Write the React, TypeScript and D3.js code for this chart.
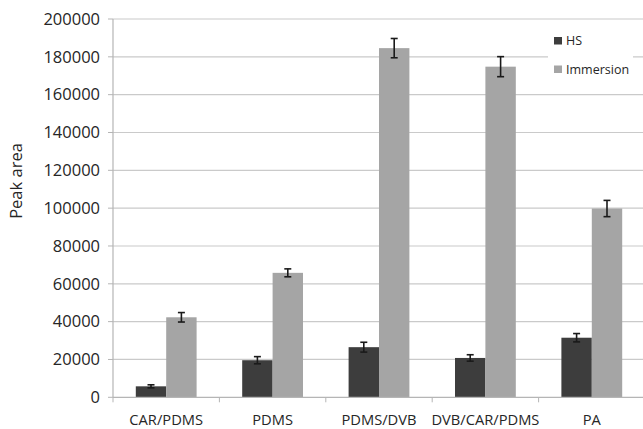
import React from "react";
import * as d3 from "d3";

const categories = ["CAR/PDMS", "PDMS", "PDMS/DVB", "DVB/CAR/PDMS", "PA"];
const seriesNames = ["HS", "Immersion"];
const hsValues = [5800, 19600, 26500, 20800, 31500];
const hsErrors = [800, 1900, 2600, 1700, 2200];
const immersionValues = [42300, 65800, 184600, 174800, 99800];
const immersionErrors = [2500, 2100, 5100, 5300, 4300];
const yTicks = [0, 20000, 40000, 60000, 80000, 100000, 120000, 140000, 160000, 180000, 200000];

const colors = ["#3d3d3d", "#a5a5a5"];
const FONT = "'Open Sans', sans-serif";

export default function App() {
  const width = 643;
  const height = 429;
  const plotLeft = 113;
  const plotRight = 645;
  const plotTop = 19;
  const plotBottom = 397.3;

  const x = d3.scaleBand<string>().domain(categories).range([plotLeft, plotRight]);
  const inner = d3
    .scaleBand<string>()
    .domain(seriesNames)
    .range([0, x.bandwidth()])
    .paddingOuter(0.75)
    .paddingInner(0);
  const y = d3.scaleLinear().domain([0, 200000]).range([plotBottom, plotTop]);

  const series = [
    { name: seriesNames[0], values: hsValues, errors: hsErrors, color: colors[0] },
    { name: seriesNames[1], values: immersionValues, errors: immersionErrors, color: colors[1] },
  ];

  const capHalf = 3.5;

  return (
    <svg
      width={width}
      height={height}
      style={{ position: "absolute", left: 0, top: 0, background: "#fff" }}
    >
      {/* horizontal gridlines */}
      {yTicks.slice(1).map((t) => (
        <line
          key={"g" + t}
          x1={plotLeft}
          x2={plotRight}
          y1={y(t)}
          y2={y(t)}
          stroke="#cacaca"
          strokeWidth={1.2}
        />
      ))}
      {/* y axis ticks & labels */}
      {yTicks.map((t) => (
        <g key={"t" + t}>
          <line x1={plotLeft - 5} x2={plotLeft} y1={y(t)} y2={y(t)} stroke="#b5b5b5" />
          <text
            x={plotLeft - 13}
            y={y(t)}
            dy="0.35em"
            textAnchor="end"
            fontFamily={FONT}
            fontSize={16.5}
            fill="#262626"
          >
            {t}
          </text>
        </g>
      ))}
      <line x1={plotLeft} x2={plotLeft} y1={plotTop} y2={plotBottom} stroke="#b5b5b5" strokeWidth={1.2} />

      {/* bars */}
      {series.map((s) =>
        categories.map((c, i) => {
          const bx = (x(c) as number) + (inner(s.name) as number);
          const bw = inner.bandwidth();
          return (
            <rect
              key={s.name + c}
              x={bx}
              y={y(s.values[i])}
              width={bw}
              height={plotBottom - y(s.values[i])}
              fill={s.color}
            />
          );
        })
      )}

      {/* x axis */}
      <line x1={plotLeft} x2={plotRight} y1={plotBottom} y2={plotBottom} stroke="#b5b5b5" strokeWidth={1.2} />
      {categories.map((c) => (
        <line
          key={"xt" + c}
          x1={x(c) as number}
          x2={x(c) as number}
          y1={plotBottom}
          y2={plotBottom + 5}
          stroke="#b5b5b5"
        />
      ))}
      {categories.map((c) => (
        <text
          key={"xl" + c}
          x={(x(c) as number) + x.bandwidth() / 2}
          y={425}
          textAnchor="middle"
          fontFamily={FONT}
          fontSize={14.7}
          fill="#262626"
        >
          {c}
        </text>
      ))}

      {/* error bars */}
      {series.map((s) =>
        categories.map((c, i) => {
          const cx = (x(c) as number) + (inner(s.name) as number) + inner.bandwidth() / 2;
          const yHi = y(s.values[i] + s.errors[i]);
          const yLo = y(s.values[i] - s.errors[i]);
          return (
            <g key={"e" + s.name + c} stroke="#1a1a1a" strokeWidth={1.6}>
              <line x1={cx} x2={cx} y1={yHi} y2={yLo} />
              <line x1={cx - capHalf} x2={cx + capHalf} y1={yHi} y2={yHi} />
              <line x1={cx - capHalf} x2={cx + capHalf} y1={yLo} y2={yLo} />
            </g>
          );
        })
      )}

      {/* y axis title */}
      <text
        transform={`translate(22, 181) rotate(-90)`}
        textAnchor="middle"
        fontFamily={FONT}
        fontSize={16.5}
        fill="#262626"
      >
        Peak area
      </text>

      {/* legend */}
      <rect x={548} y={28} width={85} height={52} fill="#fff" />
      {series.map((s, i) => (
        <g key={"lg" + s.name} transform={`translate(554, ${37 + i * 28.5})`}>
          <rect x={0} y={0} width={8} height={7.5} fill={s.color} />
          <text x={12} y={4} dy="0.35em" fontFamily={FONT} fontSize={12.5} fill="#262626">
            {s.name}
          </text>
        </g>
      ))}
    </svg>
  );
}
